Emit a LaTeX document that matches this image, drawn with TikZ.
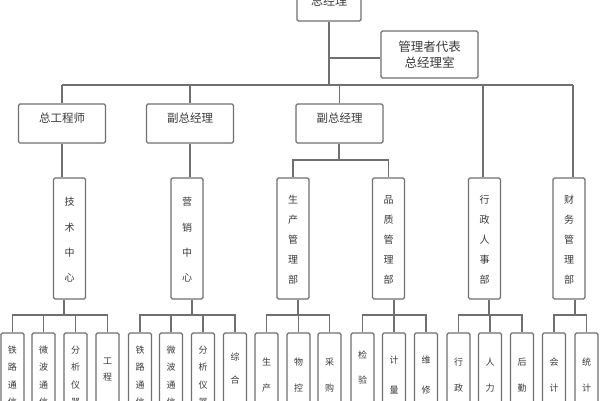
\documentclass[tikz,border=0pt]{standalone}
\usepackage{fontspec}
\setmainfont{Noto Sans CJK SC}
\definecolor{lc}{HTML}{707070}
\definecolor{tc}{HTML}{3a3a3a}
\begin{document}
\begin{tikzpicture}[x=1pt,y=-1pt,
  line/.style={draw=lc, line width=1.2pt},
  box/.style={draw=lc, line width=1.2pt, rounded corners=1.5pt, fill=white, inner sep=0pt},
  topbox/.style={box, minimum width=64, minimum height=40, text=tc, font=\fontsize{12}{14}\selectfont},
  mgrbox/.style={box, minimum width=97, minimum height=47, align=center, text=tc, font=\fontsize{12.5}{16}\selectfont},
  l2box/.style={box, minimum width=87, minimum height=39},
  vbox/.style={box, minimum width=32, minimum height=121},
  sbox/.style={box, minimum width=23, minimum height=90},
  l2txt/.style={inner sep=0pt, text=tc, font=\fontsize{11.5}{14}\selectfont},
  vtxt/.style={inner sep=0pt, align=center, text=tc, font=\fontsize{10}{#1}\selectfont},
  stxt/.style={inner sep=0pt, align=center, text=tc, font=\fontsize{9}{#1}\selectfont}
]
\useasboundingbox (0,0) rectangle (600,400);
\clip (0,0) rectangle (600,400);
\fill[white] (0,0) rectangle (600,400);

% top
\node[topbox] (gm) at (329,1) {总经理};
\node[mgrbox] (mgr) at (429.5,54.5) {管理者代表\\总经理室};
\coordinate (jm) at (329,58);
\coordinate (jb) at (329,85);
\coordinate (dx) at (483,85);
\coordinate (dc) at (573,85);

% level 2
\node[l2box] (zg) at (62,123.5) {};
\node[l2txt] (zgt) at (62,118) {总工程师};
\node[l2box] (f1) at (190,123.5) {};
\node[l2txt] (f1t) at (190,118) {副总经理};
\node[l2box] (f2) at (339.5,123.5) {};
\node[l2txt] (f2t) at (339.5,118) {副总经理};

% level 3
\node[vbox] (js) at (69.5,238.5) {};
\node[vtxt=25.3] (jst) at (69.5,240) {技\\术\\中\\心};
\node[vbox] (yx) at (187,238.5) {};
\node[vtxt=25.3] (yxt) at (187,240) {营\\销\\中\\心};
\node[vbox] (sc) at (293,238.5) {};
\node[vtxt=20] (sct) at (293,240) {生\\产\\管\\理\\部};
\node[vbox] (pz) at (388.5,238.5) {};
\node[vtxt=20] (pzt) at (388.5,240) {品\\质\\管\\理\\部};
\node[vbox] (xz) at (484.5,238.5) {};
\node[vtxt=20] (xzt) at (484.5,240) {行\\政\\人\\事\\部};
\node[vbox] (cw) at (569,238.5) {};
\node[vtxt=20] (cwt) at (569,240) {财\\务\\管\\理\\部};
\coordinate (jp) at (339,160);

% level 4 boxes
\foreach \n/\x in {a1/12.5,a2/43.5,a3/75.5,a4/107.5,
                   b1/140,b2/171,b3/203,b4/235,
                   c1/266.5,c2/298.5,c3/329.5,
                   d1/362.5,d2/394,d3/426,
                   e1/458.5,e2/490,e3/522,
                   g1/554,g2/586.5}
  {\node[sbox] (\n) at (\x,378) {};}

\node[stxt=17.5] (a1t) at (12.5,376) {铁\\路\\通\\信};
\node[stxt=17.5] (a2t) at (43.5,376) {微\\波\\通\\信};
\node[stxt=17.5] (a3t) at (75.5,376) {分\\析\\仪\\器};
\node[stxt=16] (a4t) at (107.5,370) {工\\程};
\node[stxt=17.5] (b1t) at (140,376) {铁\\路\\通\\信};
\node[stxt=17.5] (b2t) at (171,376) {微\\波\\通\\信};
\node[stxt=17.5] (b3t) at (203,376) {分\\析\\仪\\器};
\node[stxt=23] (b4t) at (235,368.5) {综\\合};
\node[stxt=26] (c1t) at (266.5,375) {生\\产};
\node[stxt=26] (c2t) at (298.5,375) {物\\控};
\node[stxt=26] (c3t) at (329.5,375) {采\\购};
\node[stxt=25] (d1t) at (362.5,367.5) {检\\验};
\node[stxt=30] (d2t) at (394,375) {计\\量};
\node[stxt=30] (d3t) at (426,375) {维\\修};
\node[stxt=26] (e1t) at (458.5,375) {行\\政};
\node[stxt=26] (e2t) at (490,375) {人\\力};
\node[stxt=26] (e3t) at (522,375) {后\\勤};
\node[stxt=26] (g1t) at (554,375) {会\\计};
\node[stxt=26] (g2t) at (586.5,375) {统\\计};

% connectors top
\draw[line] (gm.south) -- (jb);
\draw[line] (jm) -- (mgr.west |- jm);
\draw[line] (zg.north |- jb) -- (dc);
\draw[line] (zg.north |- jb) -- (zg.north);
\draw[line] (f1.north |- jb) -- (f1.north);
\draw[line] (f2.north |- jb) -- (f2.north);
\draw[line] (dx) -- (dx |- xz.north);
\draw[line] (dc) -- (dc |- cw.north);

% level 2 -> 3
\draw[line] (zg.south) -- (zg.south |- js.north);
\draw[line] (f1.south) -- (f1.south |- yx.north);
\draw[line] (jp |- f2.south) -- (jp);
\draw[line] (sc.north) |- (pz.north |- jp) -- (pz.north);

% level 3 -> 4
\coordinate (ja) at (64,315);
\coordinate (jy) at (192,315);
\coordinate (jc) at (298,315);
\coordinate (jd) at (394,315);
\coordinate (je) at (489,315);
\coordinate (jg) at (575,315);
\draw[line] (ja |- js.south) -- (ja);
\draw[line] (jy |- yx.south) -- (jy);
\draw[line] (jc |- sc.south) -- (jc);
\draw[line] (jd |- pz.south) -- (jd);
\draw[line] (je |- xz.south) -- (je);
\draw[line] (jg |- cw.south) -- (jg);

\draw[line] (a1.north) |- (a4.north |- ja) -- (a4.north);
\draw[line] (a2.north) -- (a2.north |- ja);
\draw[line] (a3.north) -- (a3.north |- ja);
\draw[line] (b1.north) |- (b4.north |- jy) -- (b4.north);
\draw[line] (b2.north) -- (b2.north |- jy);
\draw[line] (b3.north) -- (b3.north |- jy);
\draw[line] (c1.north) |- (c3.north |- jc) -- (c3.north);
\draw[line] (c2.north) -- (c2.north |- jc);
\draw[line] (d1.north) |- (d3.north |- jd) -- (d3.north);
\draw[line] (d2.north) -- (d2.north |- jd);
\draw[line] (e1.north) |- (e3.north |- je) -- (e3.north);
\draw[line] (e2.north) -- (e2.north |- je);
\draw[line] (g1.north) |- (g2.north |- jg) -- (g2.north);
\end{tikzpicture}
\end{document}
